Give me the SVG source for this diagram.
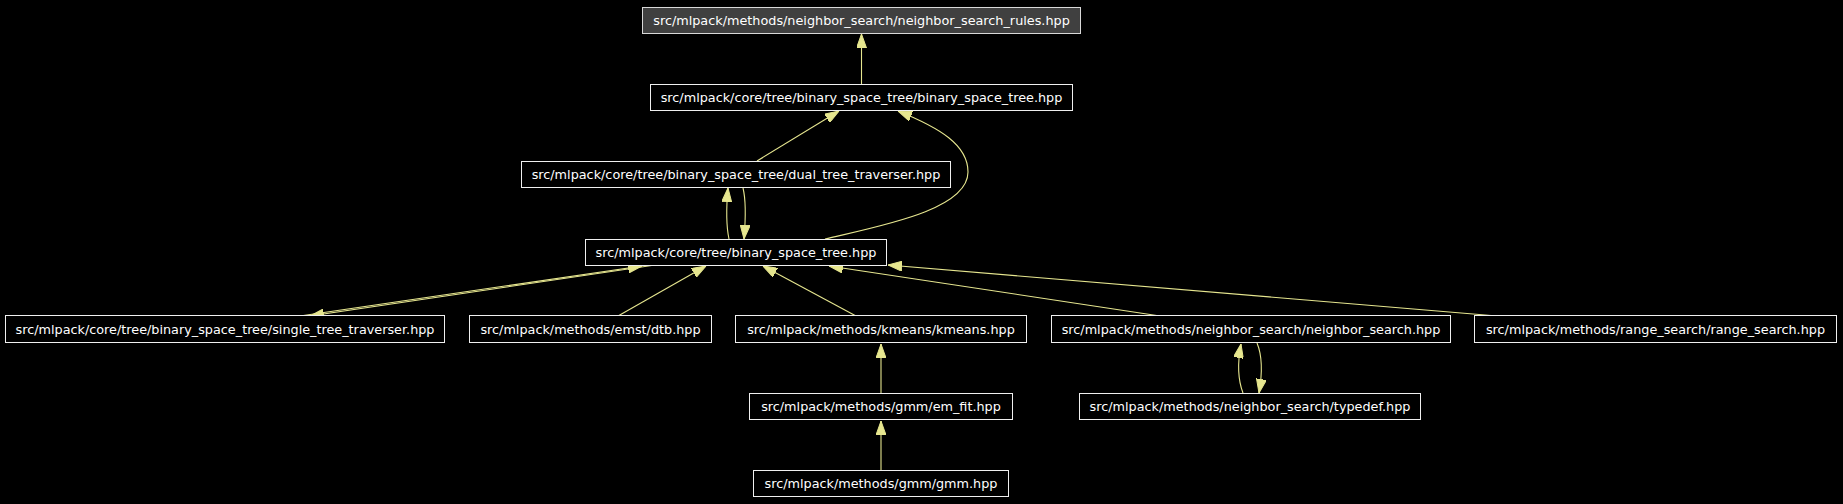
<svg xmlns="http://www.w3.org/2000/svg" width="1843" height="504" viewBox="0 0 1843 504">
<style>
.node rect{fill:#000000;stroke:#f0f0f0;stroke-width:1}
#n1 rect{fill:#404040;stroke:#d8d8d8}
.node text{fill:#ffffff;font-family:"DejaVu Sans",sans-serif;font-size:12.8px;text-anchor:middle}
.edges path{fill:none;stroke:#e6e68f;stroke-width:1.1}
</style>
<defs>
<marker id="ah" viewBox="0 0 14 10" refX="14" refY="5" markerWidth="14" markerHeight="10" markerUnits="userSpaceOnUse" orient="auto">
<path d="M0,0 L14,5 L0,10 z" fill="#e6e68f" stroke="#e6e68f" stroke-width="1"/>
</marker>
</defs>
<rect x="0" y="0" width="1843" height="504" fill="#000000"/>
<g class="edges">
<path d="M861.5,84 L861.5,34" marker-end="url(#ah)"/>
<path d="M757,161 L839,111" marker-end="url(#ah)"/>
<path d="M825,239 C880,226 968,210 968,172 C968,145 940,128 898,111" marker-end="url(#ah)"/>
<path d="M729,239 C726,225 726,210 728,188" marker-end="url(#ah)"/>
<path d="M743,188 C746,200 746,215 744,239" marker-end="url(#ah)"/>
<path d="M655,265 L310,316" marker-end="url(#ah)"/>
<path d="M300,316 L642,266" marker-end="url(#ah)"/>
<path d="M618,316 L706,266" marker-end="url(#ah)"/>
<path d="M856,316 L763,266" marker-end="url(#ah)"/>
<path d="M1160,316 L829,266" marker-end="url(#ah)"/>
<path d="M1497,316 L888,265" marker-end="url(#ah)"/>
<path d="M881,393 L881,344" marker-end="url(#ah)"/>
<path d="M881,470 L881,421" marker-end="url(#ah)"/>
<path d="M1243,393 C1238,380 1237,365 1241,344" marker-end="url(#ah)"/>
<path d="M1257,343 C1262,355 1263,370 1259,393" marker-end="url(#ah)"/>
</g>
<g id="n1" class="node"><rect x="642.5" y="7.5" width="438" height="26"/><text x="861.5" y="25">src/mlpack/methods/neighbor_search/neighbor_search_rules.hpp</text></g>
<g id="n2" class="node"><rect x="650.5" y="84.5" width="422" height="26"/><text x="861.5" y="102">src/mlpack/core/tree/binary_space_tree/binary_space_tree.hpp</text></g>
<g id="n3" class="node"><rect x="521.5" y="161.5" width="429" height="26"/><text x="736" y="179">src/mlpack/core/tree/binary_space_tree/dual_tree_traverser.hpp</text></g>
<g id="n4" class="node"><rect x="585.5" y="239.5" width="301" height="26"/><text x="736" y="257">src/mlpack/core/tree/binary_space_tree.hpp</text></g>
<g id="n5" class="node"><rect x="5.5" y="315.5" width="439" height="27"/><text x="225" y="333.5">src/mlpack/core/tree/binary_space_tree/single_tree_traverser.hpp</text></g>
<g id="n6" class="node"><rect x="469.5" y="315.5" width="242" height="27"/><text x="590.5" y="333.5">src/mlpack/methods/emst/dtb.hpp</text></g>
<g id="n7" class="node"><rect x="735.5" y="315.5" width="291" height="27"/><text x="881" y="333.5">src/mlpack/methods/kmeans/kmeans.hpp</text></g>
<g id="n8" class="node"><rect x="1051.5" y="315.5" width="399" height="27"/><text x="1251" y="333.5">src/mlpack/methods/neighbor_search/neighbor_search.hpp</text></g>
<g id="n9" class="node"><rect x="1474.5" y="315.5" width="362" height="27"/><text x="1655.5" y="333.5">src/mlpack/methods/range_search/range_search.hpp</text></g>
<g id="n10" class="node"><rect x="749.5" y="393.5" width="263" height="26"/><text x="881" y="411">src/mlpack/methods/gmm/em_fit.hpp</text></g>
<g id="n11" class="node"><rect x="1079.5" y="393.5" width="341" height="26"/><text x="1250" y="411">src/mlpack/methods/neighbor_search/typedef.hpp</text></g>
<g id="n12" class="node"><rect x="753.5" y="470.5" width="255" height="26"/><text x="881" y="488">src/mlpack/methods/gmm/gmm.hpp</text></g>
</svg>
